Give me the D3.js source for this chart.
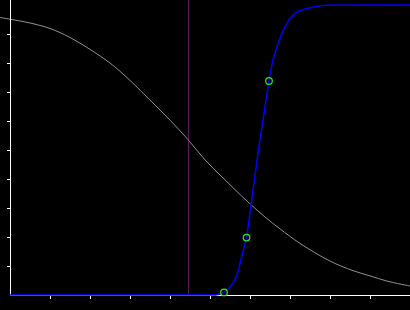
<!DOCTYPE html>
<html>
<head>
<meta charset="utf-8">
<script src="https://cdn.jsdelivr.net/npm/d3@7"></script>
<style>
  html, body { margin: 0; padding: 0; background: #000; }
  svg { display: block; }
</style>
</head>
<body>
<svg id="chart" width="410" height="310"></svg>
<script>
// values (x in 0..10, y in 0..1)
const greyX = [-0.25, 0, 0.5, 1, 1.5, 2, 2.5, 3, 3.5, 4, 4.45, 4.875, 5.375, 5.925, 6.375, 6.75, 7.25, 8, 8.575, 9, 9.425, 10]
const greyY = [0.957, 0.951, 0.938, 0.919, 0.888, 0.847, 0.800, 0.740, 0.672, 0.603, 0.536, 0.466, 0.397, 0.324, 0.269, 0.228, 0.178, 0.117, 0.084, 0.066, 0.048, 0.031]

const blueX = [0, 5.075, 5.2, 5.35, 5.45, 5.575, 5.675, 5.75, 5.825, 5.9125, 6.0, 6.075, 6.15, 6.225, 6.325, 6.4, 6.475, 6.575, 6.65, 6.75, 6.825, 6.95, 7.125, 7.325, 7.625, 7.925, 10]
const blueY = [0, 0, 0.002, 0.009, 0.021, 0.041, 0.069, 0.108, 0.151, 0.198, 0.283, 0.362, 0.438, 0.514, 0.603, 0.672, 0.738, 0.810, 0.845, 0.884, 0.910, 0.943, 0.971, 0.984, 0.994, 0.999, 1]

const markerX = [5.35, 5.9125, 6.475]
const markerY = [0.009, 0.198, 0.738]

const cursorX = 4.4375

const xTicks = [1, 2, 3, 4, 5, 6, 7, 8, 9]
const yTicks = [0.1, 0.2, 0.3, 0.4, 0.5, 0.6, 0.7, 0.8, 0.9]

const width = 410
const height = 310

const x = d3.scaleLinear().domain([0, 10]).range([10, 410])
const y = d3.scaleLinear().domain([0, 1]).range([295, 5])

const svg = d3.select("#chart")

svg.append("rect")
  .attr("width", width)
  .attr("height", height)
  .attr("fill", "#000")

// vertical cursor
svg.append("line")
  .attr("x1", Math.round(x(cursorX)) + 0.5)
  .attr("x2", Math.round(x(cursorX)) + 0.5)
  .attr("y1", 0)
  .attr("y2", y(0))
  .attr("stroke", "#5a1a5a")
  .attr("stroke-width", 1)

const greyLine = d3.line()
  .x(d => x(d[0]))
  .y(d => y(d[1]))
  .curve(d3.curveCatmullRom.alpha(0.5))

const blueLine = d3.line()
  .x(d => x(d[0]))
  .y(d => y(d[1]))
  .curve(d3.curveMonotoneX)

svg.append("path")
  .attr("d", greyLine(greyX.map((v, i) => [v, greyY[i]])))
  .attr("fill", "none")
  .attr("stroke", "#909090")
  .attr("stroke-width", 1)

// axes, drawn as plain lines
const axes = svg.append("g")
  .attr("stroke", "#ffffff")
  .attr("stroke-width", 1)
  .attr("shape-rendering", "crispEdges")

axes.append("line")
  .attr("x1", x(0)).attr("x2", x(10))
  .attr("y1", y(0) + 0.5).attr("y2", y(0) + 0.5)
axes.append("line")
  .attr("x1", x(0) + 0.5).attr("x2", x(0) + 0.5)
  .attr("y1", 0).attr("y2", y(0))

axes.selectAll(".xtick")
  .data(xTicks)
  .join("line")
  .attr("class", "xtick")
  .attr("x1", d => x(d) + 0.5).attr("x2", d => x(d) + 0.5)
  .attr("y1", y(0) + 1).attr("y2", y(0) + 4)

axes.selectAll(".ytick")
  .data(yTicks)
  .join("line")
  .attr("class", "ytick")
  .attr("x1", x(0) - 3).attr("x2", x(0))
  .attr("y1", d => Math.round(y(d)) + 0.5).attr("y2", d => Math.round(y(d)) + 0.5)

svg.append("path")
  .attr("d", blueLine(blueX.map((v, i) => [v, blueY[i]])))
  .attr("fill", "none")
  .attr("stroke", "#0000ff")
  .attr("stroke-width", 1.5)

svg.selectAll(".marker")
  .data(markerX.map((v, i) => [v, markerY[i]]))
  .join("circle")
  .attr("class", "marker")
  .attr("cx", d => x(d[0]))
  .attr("cy", d => y(d[1]))
  .attr("r", 3.3)
  .attr("fill", "none")
  .attr("stroke", "#22ee22")
  .attr("stroke-width", 1.2)
</script>
</body>
</html>
